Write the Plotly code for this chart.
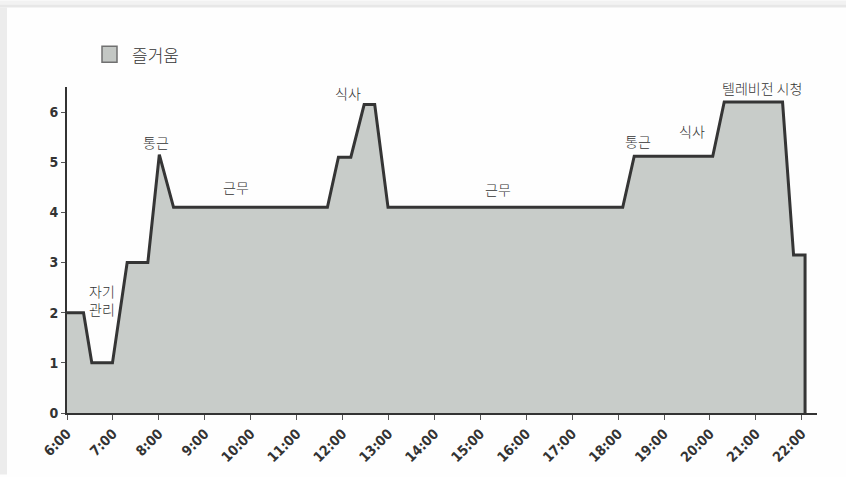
import plotly.graph_objects as go

# Time of day in decimal hours and the pleasure score at each point
hours = [6.0, 6.36, 6.54, 6.99, 7.31, 7.76, 8.01, 8.32,
         11.67, 11.91, 12.18, 12.47, 12.70, 12.99,
         18.10, 18.35, 20.06, 20.31, 21.58, 21.82, 22.07, 22.07]
pleasure = [2, 2, 1, 1, 3, 3, 5.15, 4.1,
            4.1, 5.1, 5.1, 6.15, 6.15, 4.1,
            4.1, 5.12, 5.12, 6.2, 6.2, 3.15, 3.15, 0]

tick_hours = list(range(6, 23))
tick_labels = [f"{h}:00" for h in tick_hours]
y_ticks = [0, 1, 2, 3, 4, 5, 6]

# Activity labels placed above the curve
activity_text = ["자기<br>관리", "통근", "근무", "식사", "근무", "통근", "식사", "텔레비전 시청", "집안일"]
activity_x = [6.76, 7.94, 9.68, 12.12, 15.38, 18.43, 19.60, 21.13, 22.37]
activity_y = [2.26, 5.40, 4.50, 6.38, 4.46, 5.43, 5.62, 6.48, 5.15]

series_name = "즐거움"
fill_color = "#c8ccc9"
line_color = "#353535"

fig = go.Figure()
fig.add_trace(go.Scatter(
    x=hours, y=pleasure, mode="lines", name=series_name,
    fill="tozeroy", fillcolor=fill_color,
    line=dict(color=line_color, width=3), showlegend=False,
    cliponaxis=False,
))

for txt, ax, ay in zip(activity_text, activity_x, activity_y):
    fig.add_annotation(x=ax, y=ay, text=txt, showarrow=False,
                       font=dict(family="Noto Sans CJK KR", size=14, color="#333333", weight=300),
                       xanchor="center", yanchor="middle")

L, R, T, B = 67, 29, 87, 62
W, H = 846 - L - R, 477 - T - B

def px_x(p):
    return (p - L) / W

def px_y(p):
    return (477 - B - p) / H

# Legend: grey swatch followed by the series name
fig.add_shape(type="rect", xref="paper", yref="paper",
              x0=px_x(102), x1=px_x(117), y0=px_y(62), y1=px_y(46),
              fillcolor="#c3c7c4", line=dict(color="#707070", width=1.5))
fig.add_annotation(xref="paper", yref="paper", x=px_x(130), y=px_y(54),
                   text=series_name, showarrow=False, xanchor="left", yanchor="middle",
                   font=dict(family="Noto Sans CJK KR", size=17, color="#333333", weight=300))

# Page edges
fig.add_shape(type="rect", xref="paper", yref="paper", layer="below",
              x0=px_x(0), x1=px_x(846), y0=px_y(4), y1=px_y(0),
              fillcolor="#f2f2f2", line=dict(width=0))
fig.add_shape(type="rect", xref="paper", yref="paper", layer="below",
              x0=px_x(0), x1=px_x(846), y0=px_y(7), y1=px_y(4),
              fillcolor="#e7e7e7", line=dict(width=0))
fig.add_shape(type="rect", xref="paper", yref="paper", layer="below",
              x0=px_x(0), x1=px_x(7), y0=px_y(477), y1=px_y(7),
              fillcolor="#ececec", line=dict(width=0))

tick_font = dict(family="Liberation Sans Narrow, DejaVu Sans Condensed", size=14,
                 color="#333333", weight="bold")

fig.update_layout(
    width=846, height=477,
    margin=dict(l=L, r=R, t=T, b=B),
    paper_bgcolor="#fefefe", plot_bgcolor="#fefefe",
    xaxis=dict(range=[6.0, 22.33], tickvals=tick_hours, ticktext=tick_labels,
               tickangle=-45, showgrid=False, zeroline=False,
               showline=True, linecolor="#333333", linewidth=2,
               ticks="outside", ticklen=5, tickcolor="#555555", tickwidth=1,
               tickfont=tick_font),
    yaxis=dict(range=[0, 6.5], tickvals=y_ticks, showgrid=False, zeroline=False,
               showline=True, linecolor="#333333", linewidth=2,
               ticks="outside", ticklen=4, tickcolor="#555555", tickwidth=1,
               tickfont=tick_font),
)

fig.write_html("out.html")
